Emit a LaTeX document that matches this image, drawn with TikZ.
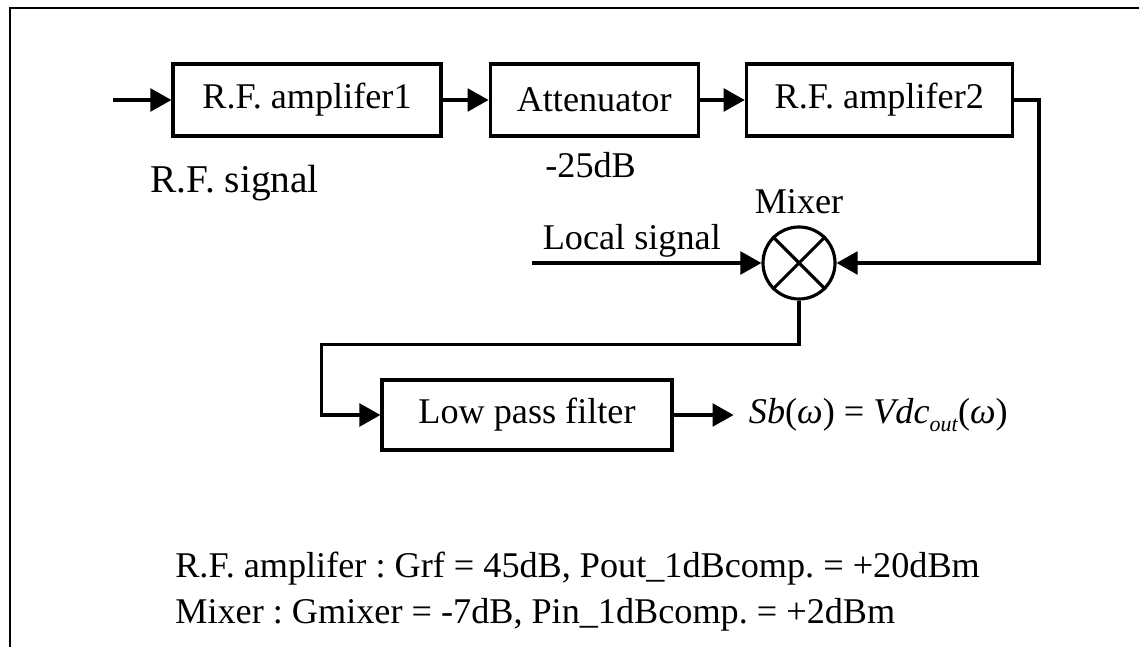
\documentclass[tikz,border=0pt]{standalone}
\usepackage{fontspec}
\setmainfont{Liberation Serif}
\usetikzlibrary{arrows.meta,positioning}

\begin{document}
\frenchspacing
\begin{tikzpicture}[font=\fontsize{20.6}{24}\selectfont,
    block/.style={rectangle, draw, line width=1.8pt, minimum height=1.44cm, inner sep=0pt},
    mix/.style={circle, draw, line width=1.8pt, minimum size=1.44cm, inner sep=0pt},
    label/.style={inner sep=0pt},
    wire/.style={line width=1.8pt},
    arrow/.style={-{Triangle[length=12pt,width=13pt]}, line width=1.8pt}
]
\useasboundingbox (0,0) rectangle (22.78,-12.94);
\draw[line width=1.1pt] (0.2,-12.94) -- (0.2,-0.16) -- (22.78,-0.16);

% signal chain
\node[block, minimum width=5.36cm] (amp1) at (6.14,-2.0) {R.F. amplifer1};
\node[block, minimum width=4.16cm, right=0.92cm of amp1] (att) {Attenuator};
\node[block, minimum width=5.32cm, right=0.9cm of att] (amp2) {R.F. amplifer2};
\node[mix] (mixer) at (15.98,-5.26) {};
\node[block, minimum width=5.8cm, minimum height=1.4cm] (lpf) at (10.54,-8.3) {Low pass filter};

\draw[wire] (mixer.north west) -- (mixer.south east)
            (mixer.north east) -- (mixer.south west);

% labels
\node[label, anchor=base west, font=\fontsize{22.4}{26}\selectfont] (rfsig) at (3.0,-3.86) {R.F. signal};
\node[label, anchor=base west] (attdb) at (10.9,-3.56) {-25dB};
\node[label, anchor=base west] (losig) at (10.85,-5.0) {Local signal};
\node[label, above=0.22cm of mixer] (mixlbl) {Mixer};

% connections
\coordinate[left=1.16cm of amp1] (rfin);
\coordinate (lo) at (10.64,-5.26);
\coordinate[right=1.2cm of lpf] (sbout);
\draw[arrow] (rfin) -- (amp1);
\draw[arrow] (amp1) -- (att);
\draw[arrow] (att) -- (amp2);
\draw[arrow] (amp2.east) -- ++(0.5,0) |- (mixer.east);
\draw[arrow] (lo) -- (mixer.west);
\draw[arrow] (mixer.south) -- ++(0,-0.88) -| ([xshift=-1.18cm]lpf.west) -- (lpf.west);
\draw[arrow] (lpf) -- (sbout);

\node[label, right=0.3cm of sbout] (sb) {\textit{Sb}(\textit{ω}) = \textit{Vdc}\raisebox{-0.22em}{\fontsize{12.5}{13}\selectfont\textit{out}}(\textit{ω})};

% notes
\node[label, anchor=base west] (spec1) at (3.5,-11.54) {R.F. amplifer : Grf = 45dB, Pout\_1dBcomp. = +20dBm};
\node[label, anchor=base west] (spec2) at (3.5,-12.46) {Mixer : Gmixer = -7dB, Pin\_1dBcomp. = +2dBm};

\end{tikzpicture}
\end{document}
